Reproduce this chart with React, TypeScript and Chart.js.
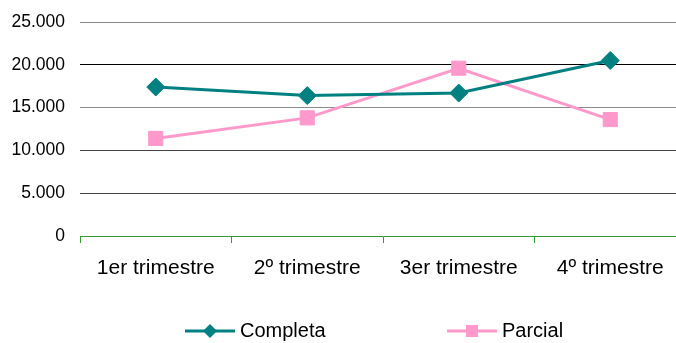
import React, { useEffect, useRef } from 'react';
import { Chart, registerables } from 'chart.js';

Chart.register(...registerables);

const categories = ['1er trimestre', '2º trimestre', '3er trimestre', '4º trimestre'];
const completa = [17400, 16400, 16700, 20500];
const parcial = [11400, 13800, 19600, 13600];
const yMin = 0;
const yMax = 25000;
const yStep = 5000;

const FONT = '"Liberation Sans", Arial, sans-serif';
const TEAL = '#008080';
const PINK = '#FF99CC';
const GREEN = '#339933';

const fmt = (v: number) => String(v).replace(/\B(?=(\d{3})+(?!\d))/g, '.');

const gridColor = (v: number) => {
  if (v === 0) return 'rgba(0,0,0,0)';
  if (v === 25000 || v === 15000) return '#8a8a8a';
  if (v === 20000) return '#000000';
  return '#444444';
};

const legendPlugin = {
  id: 'customLegend',
  afterDraw(chart: any) {
    const ctx = chart.ctx;
    const starts = [185, 447];
    const y = 331;
    chart.data.datasets.forEach((ds: any, i: number) => {
      const x0 = starts[i];
      ctx.save();
      ctx.strokeStyle = ds.borderColor;
      ctx.lineWidth = 3;
      ctx.beginPath();
      ctx.moveTo(x0, y);
      ctx.lineTo(x0 + 50, y);
      ctx.stroke();
      ctx.fillStyle = ds.backgroundColor;
      const cx = x0 + 25;
      ctx.beginPath();
      if (ds.pointStyle === 'rectRot') {
        const r = 7;
        ctx.moveTo(cx - r, y);
        ctx.lineTo(cx, y - r);
        ctx.lineTo(cx + r, y);
        ctx.lineTo(cx, y + r);
        ctx.closePath();
      } else {
        const h = 6;
        ctx.rect(cx - h, y - h, 2 * h, 2 * h);
      }
      ctx.fill();
      ctx.fillStyle = '#000';
      ctx.font = `20px ${FONT}`;
      ctx.textBaseline = 'middle';
      ctx.textAlign = 'left';
      ctx.fillText(ds.label, x0 + 55, y);
      ctx.restore();
    });
  },
};

export default function App() {
  const ref = useRef<HTMLCanvasElement>(null);

  useEffect(() => {
    if (!ref.current) return;
    const chart = new Chart(ref.current, {
      type: 'line',
      data: {
        labels: categories,
        datasets: [
          {
            label: 'Completa',
            data: completa,
            borderColor: TEAL,
            backgroundColor: TEAL,
            borderWidth: 3,
            pointStyle: 'rectRot',
            pointRadius: 9,
            pointHoverRadius: 9,
            pointBorderWidth: 1,
            tension: 0,
          },
          {
            label: 'Parcial',
            data: parcial,
            borderColor: PINK,
            backgroundColor: PINK,
            borderWidth: 3,
            pointStyle: 'rect',
            pointRadius: 10,
            pointHoverRadius: 10,
            pointBorderWidth: 1,
            tension: 0,
          },
        ],
      },
      options: {
        responsive: false,
        animation: false,
        layout: { padding: { top: 22, right: 14, bottom: 0, left: 0 } },
        plugins: {
          legend: { display: false },
          tooltip: { enabled: false },
        },
        scales: {
          x: {
            type: 'category',
            offset: true,
            grid: {
              offset: true,
              drawOnChartArea: false,
              drawTicks: true,
              tickLength: 7,
              color: GREEN,
            },
            border: { display: true, color: GREEN, width: 1 },
            ticks: {
              color: '#000',
              font: { family: FONT, size: 21 },
              padding: 13,
              maxRotation: 0,
            },
            afterFit: (s: any) => {
              s.height = 107;
              s.paddingLeft = 0;
              s.paddingRight = 0;
            },
          },
          y: {
            min: yMin,
            max: yMax,
            ticks: {
              stepSize: yStep,
              color: '#000',
              font: { family: FONT, size: 17.5 },
              padding: 15,
              callback: (v: any) => fmt(Number(v)),
            },
            grid: {
              drawTicks: false,
              color: (c: any) => gridColor(c.tick ? c.tick.value : -1),
              lineWidth: 1,
            },
            border: { display: false },
            afterFit: (s: any) => {
              s.width = 80;
              s.paddingTop = 0;
              s.paddingBottom = 0;
            },
          },
        },
      },
      plugins: [legendPlugin],
    });
    return () => chart.destroy();
  }, []);

  return (
    <div
      style={{
        position: 'fixed',
        left: 0,
        top: 0,
        width: 676,
        height: 343,
        overflow: 'hidden',
        background: '#fff',
      }}
    >
      <canvas ref={ref} width={700} height={343} style={{ display: 'block' }} />
    </div>
  );
}
